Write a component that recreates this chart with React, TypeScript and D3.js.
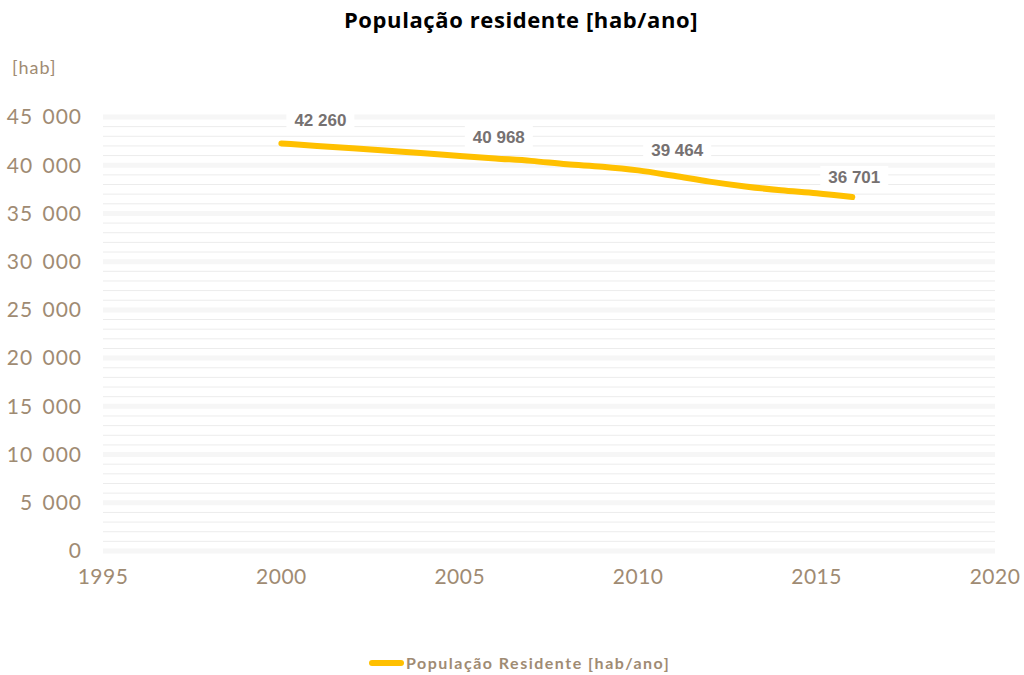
import React from "react";
import * as d3 from "d3";

const years = [2000, 2001, 2002, 2003, 2004, 2005, 2006, 2007, 2008, 2009, 2010, 2011, 2012, 2013, 2014, 2015, 2016];
const population = [42260, 42000, 41750, 41500, 41250, 40968, 40700, 40450, 40100, 39850, 39464, 38900, 38300, 37800, 37400, 37100, 36701];
const labelYears = [2000, 2005, 2010, 2016];
const xTicks = [1995, 2000, 2005, 2010, 2015, 2020];
const yTicks = [0, 5000, 10000, 15000, 20000, 25000, 30000, 35000, 40000, 45000];
const minorTicks = d3.range(0, 45001, 1000).filter((v) => v % 5000 !== 0);

const W = 1024;
const H = 675;
const TAN = "#9F8B73";
const LINE = "#FFC000";
const fmt = (v: number) => d3.format(",")(v).replace(/,/g, " ");

export default function App() {
  const x = d3.scaleLinear().domain([1995, 2020]).range([103, 995]);
  const y = d3.scaleLinear().domain([0, 45000]).range([551, 117]);
  const line = d3
    .line<number>()
    .x((_, i) => x(years[i]))
    .y((d) => y(d))
    .curve(d3.curveMonotoneX);
  const labelDx = [39, 39, 39, 2];
  const labelDy = [-23, -19, -20, -20];

  return (
    <svg width={W} height={H} style={{ display: "block", position: "absolute", left: 0, top: 0 }}>
      <rect width={W} height={H} fill="#ffffff" />
      <text x={521} y={28} textAnchor="middle" fontFamily="'Open Sans', sans-serif" fontWeight="700" fontSize={22} letterSpacing={0.6} fill="#000">
        População residente [hab/ano]
      </text>
      <text x={12} y={74} fontFamily="Lato, sans-serif" fontSize={18} letterSpacing={1} fill={TAN}>
        [hab]
      </text>
      {minorTicks.map((t) => (
        <line key={"m" + t} x1={103} x2={995} y1={y(t)} y2={y(t)} stroke="#ececec" strokeWidth={1} />
      ))}
      {yTicks.map((t) => (
        <line key={"g" + t} x1={103} x2={995} y1={y(t)} y2={y(t)} stroke="#f6f6f6" strokeWidth={5} />
      ))}
      {yTicks.map((t) => (
        <text key={"y" + t} x={82} y={y(t)} dy="0.35em" textAnchor="end" fontFamily="Lato, sans-serif" fontSize={21} letterSpacing={1} wordSpacing={3} fill={TAN}>
          {fmt(t)}
        </text>
      ))}
      {xTicks.map((t) => (
        <text key={"x" + t} x={x(t)} y={584} textAnchor="middle" fontFamily="Lato, sans-serif" fontSize={21} letterSpacing={0.5} fill={TAN}>
          {t}
        </text>
      ))}
      <path d={line(population) || ""} fill="none" stroke={LINE} strokeWidth={6} strokeLinecap="round" strokeLinejoin="round" />
      {labelYears.map((yr, k) => {
        const i = years.indexOf(yr);
        const v = population[i];
        const cx = x(yr) + labelDx[k];
        const cy = y(v) + labelDy[k];
        const tw = 60;
        return (
          <g key={"l" + yr}>
            <rect x={cx - tw / 2 - 4} y={cy - 11} width={tw + 8} height={22} fill="#fff" />
            <text x={cx} y={cy} dy="0.35em" textAnchor="middle" fontFamily="'Liberation Sans', Arial, sans-serif" fontWeight="700" fontSize={17} fill="#767171">
              {fmt(v)}
            </text>
          </g>
        );
      })}
      <line x1={372} x2={401} y1={663} y2={663} stroke={LINE} strokeWidth={6} strokeLinecap="round" />
      <text x={406} y={669} fontFamily="Lato, sans-serif" fontWeight="700" fontSize={16} letterSpacing={1.5} fill={TAN}>
        População Residente [hab/ano]
      </text>
    </svg>
  );
}
